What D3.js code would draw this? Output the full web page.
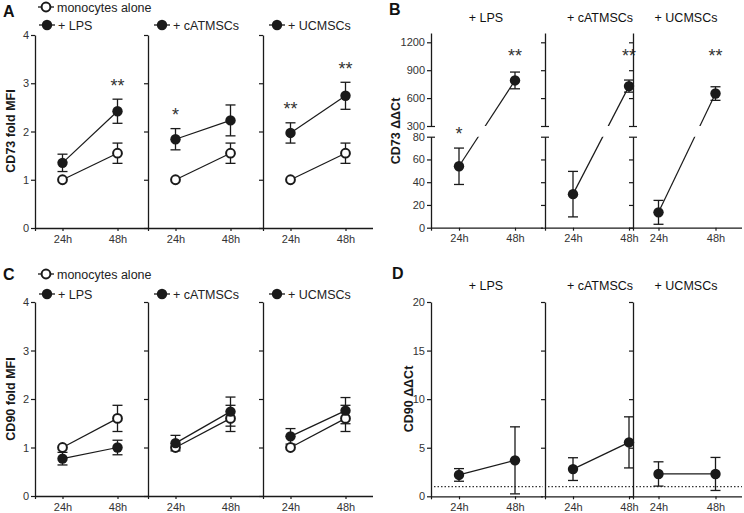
<!DOCTYPE html>
<html><head><meta charset="utf-8">
<script src="https://cdn.jsdelivr.net/npm/d3@7"></script>
<style>
body{margin:0;background:#fff}
svg{display:block}
text{font-family:"Liberation Sans",Arial,Helvetica,sans-serif}
</style>
</head><body>
<svg id="chart" width="744" height="513"></svg>
<script>
// ---------- data ----------
const timepoints = ["24h", "48h"];
const groups = ["+ LPS", "+ cATMSCs", "+ UCMSCs"];
const controlLabel = "monocytes alone";

const foldTicks = [0, 1, 2, 3, 4];
const ddctUpperTicks = [300, 600, 900, 1200];
const ddctLowerTicks = [0, 20, 40, 60, 80];
const cd90DdctTicks = [0, 5, 10, 15, 20];

// A: CD73 fold MFI
const cd73FoldAloneMean = [[1.0, 1.55], [1.0, 1.55], [1.0, 1.55]];
const cd73FoldAloneErr = [[0, 0.21], [0, 0.21], [0, 0.21]];
const cd73FoldTreatedMean = [[1.35, 2.42], [1.84, 2.23], [1.97, 2.74]];
const cd73FoldTreatedErr = [[0.18, 0.25], [0.22, 0.32], [0.21, 0.28]];
const cd73FoldStars = [["", "**"], ["*", ""], ["**", "**"]];

// B: CD73 ddCt
const cd73DdctMean = [[54, 790], [29.5, 729], [13.5, 649]];
const cd73DdctErr = [[16, 90], [20, 65], [10.5, 73]];
const cd73DdctStars = [["*", "**"], ["", "**"], ["", "**"]];

// C: CD90 fold MFI
const cd90FoldAloneMean = [[1.0, 1.6], [1.0, 1.6], [1.0, 1.6]];
const cd90FoldAloneErr = [[0, 0.27], [0, 0.27], [0, 0.27]];
const cd90FoldTreatedMean = [[0.77, 1.0], [1.09, 1.74], [1.23, 1.76]];
const cd90FoldTreatedErr = [[0.13, 0.15], [0.16, 0.3], [0.16, 0.27]];

// D: CD90 ddCt
const cd90DdctMean = [[2.2, 3.7], [2.8, 5.55], [2.3, 2.3]];
const cd90DdctErr = [[0.65, 3.45], [1.17, 2.63], [1.25, 1.7]];
const cd90Baseline = 1;

// ---------- layout ----------
const svg = d3.select("#chart");
const INK = "#1a1a1a", TXT = "#333";
const FONT = '"Liberation Sans",Arial,Helvetica,sans-serif';

const leftAxisX = [35, 148, 263];
const leftRanges = [[35, 145], [148, 258], [263, 373]];
const leftEnds = [148, 263, 373];

const rightAxisX = [431, 545, 633];
const rightRanges = [[431, 543], [545, 657], [630, 744]];
const rightEnds = [543, 633, 742];

function styleAxis(a, fs) {
  a.attr("font-family", FONT);
  a.select(".domain").attr("stroke", INK).attr("stroke-width", 1.3);
  a.selectAll(".tick line").attr("stroke", INK).attr("stroke-width", 1.2);
  a.selectAll(".tick text").attr("fill", TXT).attr("font-size", fs || 11);
}

function yAxis(g, x, scale, ticks, labels) {
  const ax = d3.axisLeft(scale).tickValues(ticks).tickSize(4).tickSizeOuter(0).tickPadding(2)
    .tickFormat(labels ? d3.format("d") : "");
  const a = g.append("g").attr("transform", `translate(${x},0)`).call(ax);
  styleAxis(a);
  return a;
}

function xAxis(g, y, xs, x0, x1) {
  const ax = d3.axisBottom(xs).tickSize(3).tickSizeOuter(0).tickPadding(4);
  const a = g.append("g").attr("transform", `translate(0,${y})`).call(ax);
  a.select(".domain").remove();
  styleAxis(a);
  g.append("line").attr("x1", x0).attr("x2", x1).attr("y1", y + 0.5).attr("y2", y + 0.5)
    .attr("stroke", INK).attr("stroke-width", 1.3);
  g.append("line").attr("x1", x0 + 0.5).attr("x2", x0 + 0.5).attr("y1", y).attr("y2", y + 3)
    .attr("stroke", INK).attr("stroke-width", 1.2);
}

function errorBar(g, x, yLo, yHi) {
  g.append("line").attr("x1", x).attr("x2", x).attr("y1", yLo).attr("y2", yHi)
    .attr("stroke", INK).attr("stroke-width", 1.3);
  [yLo, yHi].forEach(y => g.append("line").attr("x1", x - 5).attr("x2", x + 5)
    .attr("y1", y).attr("y2", y).attr("stroke", INK).attr("stroke-width", 1.3));
}

function marker(g, x, y, open) {
  if (open) {
    g.append("circle").attr("cx", x).attr("cy", y).attr("r", 4.4)
      .attr("fill", "#fff").attr("stroke", INK).attr("stroke-width", 2);
  } else {
    g.append("circle").attr("cx", x).attr("cy", y).attr("r", 5.2).attr("fill", INK);
  }
}

function star(g, x, yCenter, s) {
  if (!s) return;
  g.append("text").attr("x", x).attr("y", yCenter + 10.5).attr("text-anchor", "middle")
    .attr("font-size", 18).attr("fill", TXT).text(s);
}

function text(x, y, s, opts) {
  const t = svg.append("text").attr("x", x).attr("y", y).text(s).attr("fill", "#111");
  Object.entries(opts || {}).forEach(([k, v]) => t.attr(k, v));
  return t;
}

function yTitle(x, y, s) {
  svg.append("text").attr("transform", `translate(${x},${y}) rotate(-90)`)
    .attr("text-anchor", "middle").attr("font-size", 12.5).attr("font-weight", "bold")
    .attr("fill", "#1a1a1a").text(s);
}

function legendItem(cx, cy, open, label) {
  svg.append("line").attr("x1", cx - 8).attr("x2", cx + 8).attr("y1", cy).attr("y2", cy)
    .attr("stroke", INK).attr("stroke-width", 1.3);
  marker(svg, cx, cy, open);
  text(cx + 11, cy + 4.5, label, {"font-size": 12.5, "fill": "#222"});
}

// ---------- fold MFI panels (A, C) ----------
function foldPanel(top, bottom, aloneMean, aloneErr, trMean, trErr, stars) {
  const y = d3.scaleLinear().domain([0, 4]).range([bottom, top]);
  groups.forEach((grp, i) => {
    const g = svg.append("g");
    const xs = d3.scalePoint().domain(timepoints).range(leftRanges[i]).padding(0.5);
    yAxis(g, leftAxisX[i], y, foldTicks, i === 0);
    xAxis(g, bottom, xs, leftAxisX[i], leftEnds[i]);
    const line = d3.line().x((d, j) => xs(timepoints[j])).y(d => y(d));
    [aloneMean[i], trMean[i]].forEach(vals => g.append("path").attr("d", line(vals))
      .attr("fill", "none").attr("stroke", INK).attr("stroke-width", 1.2));
    timepoints.forEach((t, j) => {
      const x = xs(t);
      if (aloneErr[i][j] > 0) errorBar(g, x, y(aloneMean[i][j] - aloneErr[i][j]), y(aloneMean[i][j] + aloneErr[i][j]));
      errorBar(g, x, y(trMean[i][j] - trErr[i][j]), y(trMean[i][j] + trErr[i][j]));
    });
    timepoints.forEach((t, j) => {
      const x = xs(t);
      marker(g, x, y(aloneMean[i][j]), true);
      marker(g, x, y(trMean[i][j]), false);
      if (stars) star(g, x, y(trMean[i][j] + trErr[i][j]) - 18, stars[i][j]);
    });
  });
  return y;
}

// A
text(3, 17, "A", {"font-size": 16, "font-weight": "bold"});
foldPanel(35, 228, cd73FoldAloneMean, cd73FoldAloneErr, cd73FoldTreatedMean, cd73FoldTreatedErr, cd73FoldStars);
yTitle(15, 131, "CD73 fold MFI");
legendItem(46, 7, true, controlLabel);
groups.forEach((grp, i) => legendItem(leftAxisX[i] + (i === 0 ? 12 : 14), 25, false, grp));

// C
text(3, 280, "C", {"font-size": 16, "font-weight": "bold"});
foldPanel(302, 496, cd90FoldAloneMean, cd90FoldAloneErr, cd90FoldTreatedMean, cd90FoldTreatedErr, null);
yTitle(15, 399, "CD90 fold MFI");
legendItem(46, 274, true, controlLabel);
groups.forEach((grp, i) => legendItem(leftAxisX[i] + (i === 0 ? 12 : 14), 294, false, grp));

// ---------- B: broken axis ----------
text(389, 15, "B", {"font-size": 16, "font-weight": "bold"});
const bUpper = d3.scaleLinear().domain([300, 1300]).range([126, 33]);
const bLower = d3.scaleLinear().domain([0, 80]).range([227.7, 136.7]);
const bY = v => v >= 300 ? bUpper(v) : bLower(v);
const starLevelB = 1100;

const defs = svg.append("defs");
const clip = defs.append("clipPath").attr("id", "bclip");
clip.append("rect").attr("x", 380).attr("y", 0).attr("width", 364).attr("height", bUpper(300));
clip.append("rect").attr("x", 380).attr("y", bLower(80)).attr("width", 364).attr("height", 120);

groups.forEach((grp, i) => {
  const g = svg.append("g");
  const xs = d3.scalePoint().domain(timepoints).range(rightRanges[i]).padding(0.5);
  const ax = rightAxisX[i];
  yAxis(g, ax, bUpper, ddctUpperTicks, i === 0);
  yAxis(g, ax, bLower, ddctLowerTicks, i === 0);
  [bUpper(300), bLower(80)].forEach(yy => g.append("line").attr("x1", ax).attr("x2", ax + 4)
    .attr("y1", yy + 0.5).attr("y2", yy + 0.5).attr("stroke", INK).attr("stroke-width", 1.2));
  xAxis(g, 227.7, xs, ax, rightEnds[i]);
  const line = d3.line().x((d, j) => xs(timepoints[j])).y(d => bY(d));
  g.append("path").attr("d", line(cd73DdctMean[i])).attr("clip-path", "url(#bclip)")
    .attr("fill", "none").attr("stroke", INK).attr("stroke-width", 1.2);
  timepoints.forEach((t, j) => {
    const m = cd73DdctMean[i][j], e = cd73DdctErr[i][j];
    errorBar(g, xs(t), bY(m - e), bY(m + e));
  });
  timepoints.forEach((t, j) => {
    const m = cd73DdctMean[i][j], e = cd73DdctErr[i][j];
    marker(g, xs(t), bY(m), false);
    const yc = j === 1 ? bUpper(starLevelB) : bY(m + e) - 19;
    star(g, xs(t), yc, cd73DdctStars[i][j]);
  });
  text((rightRanges[i][0] + rightRanges[i][1]) / 2 - 1, 22, grp,
    {"font-size": 12.5, "text-anchor": "middle", "fill": "#111"});
});
yTitle(400, 131, "CD73 \u0394\u0394Ct");

// ---------- D ----------
text(392, 279, "D", {"font-size": 16, "font-weight": "bold"});
const dY = d3.scaleLinear().domain([0, 20]).range([496.3, 302]);
groups.forEach((grp, i) => {
  const g = svg.append("g");
  const xs = d3.scalePoint().domain(timepoints).range(rightRanges[i]).padding(0.5);
  const ax = rightAxisX[i];
  yAxis(g, ax, dY, cd90DdctTicks, i === 0);
  xAxis(g, 496.3, xs, ax, rightEnds[i]);
  g.append("line").attr("x1", ax + 3).attr("x2", rightEnds[i]).attr("y1", dY(cd90Baseline))
    .attr("y2", dY(cd90Baseline)).attr("stroke", "#333").attr("stroke-width", 1.3)
    .attr("stroke-dasharray", "1.5,2");
  const line = d3.line().x((d, j) => xs(timepoints[j])).y(d => dY(d));
  g.append("path").attr("d", line(cd90DdctMean[i]))
    .attr("fill", "none").attr("stroke", INK).attr("stroke-width", 1.2);
  timepoints.forEach((t, j) => {
    const m = cd90DdctMean[i][j], e = cd90DdctErr[i][j];
    errorBar(g, xs(t), dY(m - e), dY(m + e));
  });
  timepoints.forEach((t, j) => marker(g, xs(t), dY(cd90DdctMean[i][j]), false));
  text((rightRanges[i][0] + rightRanges[i][1]) / 2 - 1, 290, grp,
    {"font-size": 12.5, "text-anchor": "middle", "fill": "#111"});
});
yTitle(413, 399, "CD90 \u0394\u0394Ct");
</script>
</body></html>
